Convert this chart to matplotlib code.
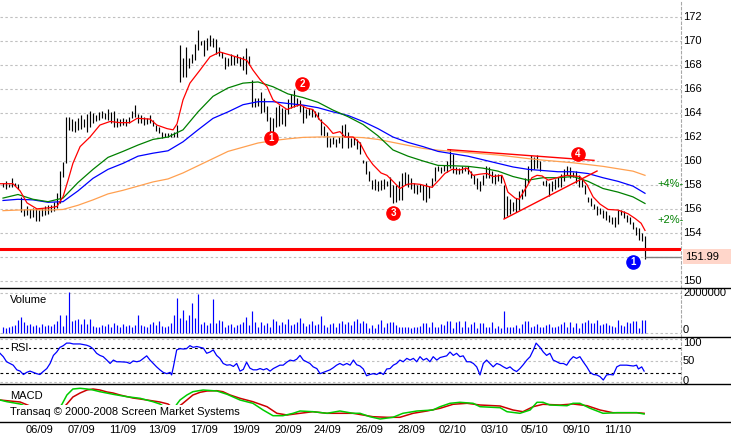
import numpy as np
import matplotlib
matplotlib.use("Agg")
import matplotlib.pyplot as plt
from matplotlib.lines import Line2D
from matplotlib.patches import Rectangle

plt.rcParams['font.family'] = ['Liberation Sans', 'DejaVu Sans']

# ---------------- data ----------------
high = [158.2, 158.3, 158.1, 158.6, 158.2, 158.1, 157.0, 156.0, 156.2, 156.0,
        156.1, 156.0, 155.9, 156.1, 156.2, 156.3, 156.3, 156.6, 157.3, 159.2,
        159.9, 163.7, 163.7, 163.5, 163.3, 163.6, 163.8, 163.5, 163.9, 164.2,
        164.0, 163.8, 164.1, 164.2, 164.0, 164.3, 164.1, 164.2, 163.6, 163.5,
        163.6, 163.5, 163.7, 164.2, 164.7, 163.9, 163.8, 163.7, 163.6, 163.8,
        163.4, 163.0, 162.8, 162.4, 162.3, 162.3, 162.3, 162.4, 163.0, 169.7,
        168.6, 169.5, 168.6, 168.9, 169.8, 170.9, 170.0, 170.1, 170.3, 170.5,
        170.3, 170.2, 169.5, 169.1, 168.7, 168.6, 168.9, 168.8, 168.9, 168.7,
        168.8, 169.4, 168.8, 166.8, 165.3, 165.3, 165.8, 165.3, 164.6, 163.7,
        163.6, 164.5, 164.7, 164.4, 164.3, 165.2, 165.6, 165.9, 165.3, 165.1,
        164.7, 164.3, 164.4, 164.3, 164.2, 164.1, 163.5, 162.9, 162.4, 161.9,
        162.0, 161.8, 162.0, 163.0, 163.1, 162.4, 161.9, 162.0, 161.8, 161.6,
        160.1, 160.0, 159.2, 158.4, 158.5, 158.3, 158.4, 158.5, 158.3, 158.7,
        158.0, 158.0, 158.3, 159.0, 159.1, 158.9, 158.6, 158.2, 158.0, 158.1,
        158.0, 158.2, 157.9, 158.6, 159.5, 159.6, 159.5, 159.7, 160.0, 161.0,
        160.6, 159.5, 159.4, 159.6, 159.5, 159.6, 159.2, 158.8, 158.6, 158.3,
        158.8, 159.6, 159.5, 159.2, 158.9, 158.9, 158.8, 158.0, 157.1, 156.8,
        156.6, 156.9, 157.5, 157.7, 158.6, 159.6, 160.5, 160.3, 160.5, 160.0,
        158.3, 158.4, 158.2, 158.3, 158.5, 158.7, 158.9, 159.3, 159.6, 159.5,
        159.1, 159.2, 158.8, 158.5, 158.0, 157.0, 156.9, 156.4, 156.2, 156.1,
        155.9, 155.8, 155.5, 155.3, 155.3, 155.9, 155.9, 155.8, 155.5, 155.3,
        154.9, 154.5, 154.4, 154.0, 153.7]
low = [157.8, 157.7, 157.8, 157.8, 157.9, 157.7, 155.7, 155.4, 155.5, 155.2,
       155.3, 155.0, 155.0, 155.4, 155.5, 155.6, 155.7, 155.8, 156.1, 156.5,
       158.7, 159.8, 162.6, 162.5, 162.4, 162.6, 162.7, 162.8, 162.4, 162.8,
       163.2, 163.3, 163.4, 163.6, 163.5, 163.4, 163.2, 162.8, 162.8, 162.9,
       163.0, 162.9, 163.2, 163.6, 163.7, 163.2, 163.2, 163.0, 163.1, 163.2,
       162.9, 162.5, 162.3, 161.9, 162.0, 162.0, 162.0, 162.0, 162.0, 166.6,
       167.0, 167.0, 167.8, 168.2, 168.4, 169.3, 169.7, 168.8, 169.3, 169.6,
       169.5, 168.9, 168.8, 168.6, 167.7, 167.9, 168.0, 168.0, 168.2, 167.9,
       167.6, 167.3, 168.0, 164.5, 164.5, 164.6, 164.0, 164.1, 163.3, 162.3,
       162.0, 162.8, 162.9, 163.1, 162.9, 163.9, 164.4, 164.5, 164.6, 164.1,
       163.2, 163.6, 163.8, 163.7, 163.7, 163.5, 162.2, 162.1, 161.2, 161.2,
       161.4, 161.2, 161.5, 161.1, 162.1, 161.1, 161.2, 161.3, 161.0, 160.6,
       159.8, 158.9, 158.3, 157.7, 157.6, 157.5, 157.6, 157.7, 157.9, 157.0,
       156.5, 156.6, 156.7, 156.7, 158.0, 157.8, 157.7, 157.3, 157.2, 157.4,
       156.7, 156.6, 156.9, 157.8, 158.3, 159.2, 159.0, 159.2, 159.1, 159.4,
       159.0, 158.9, 158.9, 159.0, 159.2, 158.9, 158.6, 158.1, 157.7, 157.5,
       158.0, 158.6, 158.6, 158.2, 158.1, 158.3, 158.2, 155.2, 155.4, 155.6,
       155.8, 155.7, 155.9, 156.8, 157.1, 158.2, 159.2, 159.3, 159.4, 159.2,
       158.0, 157.9, 157.1, 157.5, 157.7, 157.8, 157.8, 158.3, 158.8, 158.6,
       158.7, 158.2, 157.8, 157.8, 157.2, 156.6, 156.2, 156.0, 155.5, 155.6,
       155.2, 155.1, 154.9, 154.7, 154.5, 154.7, 155.5, 155.2, 154.9, 154.7,
       154.3, 153.8, 153.4, 153.3, 151.8]
volume_m = [0.30, 0.25, 0.28, 0.32, 0.38, 0.65, 0.78, 0.55, 0.40, 0.45,
            0.35, 0.40, 0.30, 0.45, 0.32, 0.38, 0.35, 0.45, 0.58, 0.92,
            0.35, 0.88, 2.05, 0.60, 0.62, 0.70, 0.45, 0.72, 0.42, 0.68,
            0.35, 0.30, 0.28, 0.40, 0.35, 0.45, 0.30, 0.50, 0.38, 0.30,
            0.45, 0.35, 0.40, 0.30, 0.38, 0.92, 0.40, 0.35, 0.30, 0.45,
            0.52, 0.40, 0.60, 0.35, 0.30, 0.35, 0.50, 0.90, 1.74, 0.75,
            1.15, 0.65, 0.90, 1.49, 0.75, 1.94, 0.45, 0.55, 0.40, 0.50,
            1.71, 0.47, 0.64, 0.59, 0.30, 0.40, 0.45, 0.30, 0.40, 0.45,
            0.55, 0.80, 0.40, 1.10, 0.55, 0.30, 0.55, 0.40, 0.50, 0.30,
            0.72, 0.60, 0.40, 0.55, 0.45, 0.70, 0.38, 0.45, 0.55, 0.73,
            0.50, 0.35, 0.45, 0.60, 0.40, 0.45, 0.86, 0.40, 0.30, 0.45,
            0.50, 0.30, 0.50, 0.60, 0.45, 0.55, 0.40, 0.58, 0.70, 0.50,
            0.60, 0.50, 0.25, 0.40, 0.25, 0.42, 0.64, 0.30, 0.48, 0.55,
            0.52, 0.40, 0.30, 0.28, 0.30, 0.30, 0.25, 0.30, 0.30, 0.35,
            0.47, 0.50, 0.30, 0.52, 0.30, 0.28, 0.42, 0.40, 0.59, 0.59,
            0.25, 0.56, 0.59, 0.28, 0.59, 0.30, 0.42, 0.54, 0.25, 0.47,
            0.47, 0.30, 0.30, 0.52, 0.25, 0.35, 0.25, 1.10, 0.30, 0.28,
            0.30, 0.40, 0.25, 0.45, 0.59, 0.58, 0.30, 0.35, 0.42, 0.28,
            0.30, 0.40, 0.42, 0.28, 0.30, 0.35, 0.42, 0.52, 0.30, 0.54,
            0.30, 0.50, 0.25, 0.50, 0.52, 0.62, 0.47, 0.50, 0.64, 0.40,
            0.42, 0.50, 0.38, 0.35, 0.30, 0.62, 0.38, 0.35, 0.56, 0.47,
            0.59, 0.60, 0.25, 0.64, 0.64]

# moving averages sampled every 5 bars (last at bar 214)
ma_idx = list(range(0, 211, 5)) + [214]
green_ma = [156.9, 157.2, 156.8, 156.6, 156.9, 158.2, 159.3, 160.3, 160.8, 161.33,
            161.8, 162.0, 162.6, 164.1, 165.4, 166.1, 166.5, 166.6, 166.2, 165.6,
            165.3, 164.9, 164.25, 163.7, 163.05, 162.1, 160.92, 160.4, 160.0, 159.63,
            159.6, 159.55, 159.4, 159.15, 158.7, 158.4, 158.6, 158.6, 158.7, 158.3,
            157.7, 157.4, 157.0, 156.45]
blue_ma = [156.7, 156.8, 156.75, 156.55, 156.6, 157.5, 158.55, 159.3, 159.8, 160.4,
           160.65, 160.85, 161.6, 162.6, 163.56, 164.1, 164.7, 164.95, 164.95, 164.8,
           164.67, 164.45, 164.1, 163.8, 163.3, 162.7, 162.0, 161.55, 161.2, 160.8,
           160.6, 160.4, 160.1, 159.8, 159.5, 159.3, 159.2, 159.1, 159.1, 158.95,
           158.6, 158.3, 157.9, 157.3]
orange_ma = [155.85, 155.9, 155.93, 155.9, 155.95, 156.3, 156.75, 157.25, 157.55, 157.9,
             158.25, 158.5, 159.0, 159.6, 160.2, 160.8, 161.15, 161.5, 161.7, 161.85,
             161.97, 162.0, 162.02, 162.0, 161.95, 161.8, 161.55, 161.3, 161.05, 160.9,
             160.8, 160.7, 160.6, 160.5, 160.35, 160.2, 160.07, 159.96, 159.85, 159.7,
             159.55, 159.35, 159.15, 158.8]
red_ma_idx = [-1.0, 3.3, 5.7, 8.0, 11.3, 15.7, 18.0, 20.0, 21.7, 23.3, 25.7, 29.0,
              32.3, 35.7, 39.0, 42.3, 44.7, 49.0, 51.3, 54.7, 56.7, 58.0, 60.0, 62.3,
              65.7, 69.0, 72.3, 75.7, 79.0, 81.3, 83.3, 85.7, 88.0, 90.0, 92.3, 94.7,
              96.7, 99.0, 101.3, 103.3, 105.7, 108.0, 110.0, 112.3, 114.0, 116.7,
              119.0, 121.3, 123.3, 126.0, 128.0, 130.0, 132.3, 134.7, 136.7, 139.0,
              142.0, 143.0, 145.3, 147.3, 149.7, 152.3, 154.7, 156.7, 159.0, 161.3,
              163.3, 166.3, 167.0, 168.3, 170.7, 172.0, 173.0, 174.7, 176.3, 178.0,
              179.7, 181.7, 183.3, 186.0, 188.0, 192.3, 194.7, 196.7, 199.0, 201.7,
              205.0, 208.3, 210.7, 212.7, 214.0]
red_ma = [158.1, 158.1, 157.5, 156.5, 156.0, 156.1, 156.2, 157.0, 158.4, 159.8, 161.2, 162.0,
          163.0, 163.3, 163.2, 163.2, 163.56, 163.5, 163.0, 162.7, 162.6, 163.1, 165.1, 166.5,
          167.6, 168.7, 169.1, 168.85, 168.6, 168.4, 167.6, 166.8, 166.2, 165.1, 164.7, 164.3,
          164.5, 164.7, 164.4, 164.3, 163.4, 162.9, 162.3, 162.45, 162.0, 162.0,
          161.5, 160.4, 159.7, 159.0, 158.8, 158.3, 157.7, 158.05, 158.1, 158.05,
          157.85, 157.8, 158.4, 158.96, 159.3, 159.25, 159.4, 158.8, 158.9, 158.96,
          158.7, 158.8, 158.4, 157.4, 156.9, 156.8, 157.2, 157.9, 158.6, 158.8,
          158.75, 158.4, 158.5, 158.7, 158.8, 158.7, 158.0, 157.0, 156.4, 155.95,
          155.9, 155.6, 155.2, 154.8, 154.2]

rsi_idx = [-1, 0.1, 1.2, 2.3, 3.4, 4.6, 5.7, 6.8, 7.9, 9, 10.1, 11.2, 12.3, 13.4, 14.6,
           15.7, 16.8, 17.9, 19, 20.1, 21.2, 22.3, 23.4, 25.7, 27.9, 29, 30.1, 31.2, 32.3,
           33.4, 34.6, 35.7, 36.8, 37.9, 39, 41.2, 42.3, 43.4, 44.6, 45.7, 46.8, 47.9, 49,
           50.1, 51.2, 52.3, 53.4, 54.6, 55.7, 56.2, 56.8, 57.9, 59, 60.1, 61.2, 62.3, 63.4,
           64.6, 65.7, 66.8, 67.9, 69, 70.1, 71.2, 72.3, 73.4, 74.6, 75.7, 76.8, 77.9, 79,
           80.1, 81.2, 82.3, 83.4, 84.6, 85.7, 86.8, 87.9, 89, 90.1, 91.2, 92.3, 93.4, 94.6,
           95.7, 96.8, 97.9, 99, 100.1, 101.2, 102.3, 103.4, 104.6, 105.7, 106.8, 107.9,
           109, 110.1, 111.2, 112.3, 113.4, 114.6, 115.7, 116.8, 117.9, 119, 120.1, 121.2,
           122.3, 123.4, 124.6, 125.7, 126.8, 127.9, 129, 130.1, 131.2, 132.3, 133.4, 134.6,
           135.7, 136.8, 137.9, 139, 140.1, 141.2, 142.3, 143.4, 144.6, 145.7, 146.8, 147.9,
           149, 150.1, 151.2, 152.3, 153.4, 154.6, 155.7, 156.8, 157.9, 159, 160.1, 161.2,
           162.3, 163.4, 164.6, 165.7, 166.8, 167.9, 169, 170.1, 171.2, 172.3, 173.4, 174.6,
           175.7, 176.8, 177.7, 179, 180.1, 181.2, 182.3, 183.4, 184.6, 185.7, 186.8, 187.9,
           189, 190.1, 191.2, 192.3, 193.4, 194.6, 195.7, 196.8, 197.9, 199, 200.1, 201.2,
           202.3, 203.4, 204.6, 205.7, 207.9, 210.1, 211.2, 211.8, 212.9, 213.7]
rsi = [67, 59, 47, 43, 39, 28, 25, 17, 22, 25, 22, 19, 17, 24, 31,
       43, 62, 70, 81, 85, 91, 91, 89, 89, 86, 83, 77, 67, 62,
       59, 51, 43, 51, 47, 47, 46, 43, 49, 47, 49, 55, 61, 51,
       43, 35, 28, 22, 19, 22, 16, 35, 75, 78, 77, 78, 85, 81,
       83, 81, 79, 67, 70, 75, 62, 55, 43, 39, 40, 36, 43, 25,
       29, 46, 32, 28, 28, 31, 28, 31, 25, 31, 35, 39, 39, 46,
       51, 49, 53, 62, 51, 47, 43, 35, 31, 19, 22, 25,
       28, 33, 39, 43, 39, 43, 39, 51, 40, 37, 30, 14,
       17, 19, 17, 22, 17, 30, 31, 39, 43, 51, 47, 55,
       51, 55, 47, 59, 51, 55, 47, 59, 51, 57, 59, 61,
       70, 62, 67, 59, 61, 47, 47, 43, 35, 16, 43, 51,
       43, 35, 43, 40, 35, 31, 35, 28, 24, 31, 40, 51,
       59, 75, 91, 81, 70, 62, 67, 51, 47, 43, 43, 39,
       51, 59, 55, 59, 47, 35, 22, 17, 16, 12, 4, 16,
       17, 16, 35, 39, 39, 37, 39, 30, 35, 25]

macd_red_idx = [-1, 2.3, 5.7, 9, 12.3, 15.7, 18, 20, 21.3, 23.3, 25.7, 28, 30, 32.3, 34.7,
                36.7, 39, 43.3, 48, 52.3, 55, 56.3, 58.3, 59.7, 61.3, 63.3, 65.7, 68, 71.3,
                73.3, 75.7, 79, 83.3, 88, 91.3, 94.7, 99, 103.3, 108, 112.3, 116.7, 120,
                123.3, 128, 132.3, 136.7, 141.3, 145.7, 150, 154.7, 159, 165.7, 170, 173.3,
                176.7, 180, 185.7, 190, 194.7, 199, 203.3, 208, 211.3, 213.7]
macd_red = [0.5, 0.4, 0.3, -0.1, -0.5, -0.7, -0.6, -0.3, 0.1, 0.8, 1.2, 1.5, 1.6, 1.5, 1.3,
            1.2, 1.0, 0.7, 0.5, 0.3, 0.1, -0.2, -0.2, 0.1, 0.5, 1.0, 1.27, 1.4, 1.43,
            1.33, 1.0, 0.67, 0.33, -0.17, -0.83, -1.0, -0.83, -0.67, -0.83, -0.83, -0.83, -1.0,
            -1.17, -1.23, -1.23, -0.83, -0.6, -0.33, 0.07, 0.17, 0.0, -0.1, -0.5, -0.67,
            -0.17, 0.07, 0.0, 0.1, -0.07, -0.5, -0.77, -0.77, -0.77, -0.83]
macd_green_idx = [-1, 1.3, 5.7, 10.7, 15.7, 18.3, 19.7, 21.3, 23.3, 25.7, 28, 30, 32.3, 36.7,
                  41.3, 45.7, 50, 52.3, 55, 57.3, 58, 59, 61.3, 63.3, 66.7, 71.3, 74.7, 79,
                  83.3, 86.7, 90, 93.3, 96.7, 99, 103.3, 108, 112.3, 116.7, 119, 122.3, 125.7,
                  130, 133.3, 138, 143.3, 145.7, 149, 152.3, 156.7, 159, 165.7, 168, 172.3,
                  175.7, 178, 180, 182.3, 188, 190, 192.3, 195.7, 200, 204.7, 208, 211.3, 213.7]
macd_green = [0.5, 0.33, 0.1, -0.5, -0.8, -0.5, 0.1, 1.0, 1.6, 1.67, 1.6, 1.5, 1.33, 1.07,
              0.83, 0.67, 0.33, 0.1, -0.4, -0.2, 0.1, 0.5, 1.0, 1.33, 1.5, 1.4, 1.07, 0.5,
              0.17, -0.5, -1.07, -1.07, -0.83, -0.6, -0.67, -0.83, -0.6, -0.83, -0.83, -1.17, -1.4,
              -1.23, -0.83, -0.6, -0.5, -0.17, 0.17, 0.27, 0.17, -0.17, -0.27, -0.67, -0.83,
              -0.5, 0.27, 0.27, 0.0, -0.07, 0.17, 0.17, -0.33, -0.83, -0.77, -0.77, -0.77, -0.9]

dates = ['06/09', '07/09', '11/09', '13/09', '17/09', '19/09', '20/09', '24/09',
         '26/09', '28/09', '02/10', '03/10', '05/10', '09/10', '11/10']
date_idx = [12, 26, 40, 53, 67, 81, 95, 108, 122, 136, 150, 164, 177, 191, 205]

price_grid = [150, 152, 154, 156, 158, 160, 162, 164, 166, 168, 170, 172]
price_labels = [150, 154, 156, 158, 160, 162, 164, 166, 168, 170, 172]
level_line = 152.62
last_price = 151.99

trend_top_idx = [148.3, 197.0]
trend_top = [160.95, 160.05]
trend_low_idx = [167.0, 198.0]
trend_low = [155.15, 159.16]

badges_red_idx = [89.3, 99.7, 130.0, 191.6]
badges_red_val = [161.92, 166.43, 155.65, 160.58]
badges_red_txt = ['1', '2', '3', '4']
badge_blue_idx = 209.9
badge_blue_val = 151.59

# ---------------- figure ----------------
W, H = 731, 436
fig = plt.figure(figsize=(W / 100, H / 100), dpi=100)
fig.patch.set_facecolor('white')


def fy(py):
    return 1 - py / H


XR = 681 / W
tops = [0, 288.3, 336.7, 384.3, 422.0]
axes = []
for k in range(4):
    a = fig.add_axes([0, fy(tops[k + 1]), XR, (tops[k + 1] - tops[k]) / H])
    a.set_xlim(-1, 226)
    a.set_facecolor('white')
    for s in ['top', 'left', 'bottom']:
        a.spines[s].set_visible(False)
    a.spines['right'].set_linestyle((0, (2.2, 2.2)))
    a.spines['right'].set_color('#a8a8a8')
    a.spines['right'].set_linewidth(0.8)
    a.set_xticks([])
    a.set_yticks([])
    axes.append(a)
ax_p, ax_v, ax_r, ax_m = axes
ax_m.spines['right'].set_visible(False)

grid_kw = dict(color='#c0c0c0', lw=0.8, ls=(0, (2.2, 2.2)), zorder=0)
LX = 683 / W


def right_label(py, txt, **kw):
    fig.text(LX, fy(py), txt, ha='left', va='center', fontsize=8, **kw)


# ---- price panel ----
ax_p.set_ylim(149.365, 173.445)
for g in price_grid:
    ax_p.axhline(g, **grid_kw)
for v in price_labels:
    py = ax_p.transData.transform((0, v))[1]
    right_label(H - py, str(v))
bars_x = np.arange(len(high))
ax_p.vlines(bars_x, low, high, color='black', lw=0.85, zorder=2)
ax_p.plot(ma_idx, orange_ma, color='#ffa050', lw=0.9, zorder=3)
ax_p.plot(ma_idx, blue_ma, color='#0000ff', lw=0.9, zorder=3)
ax_p.plot(ma_idx, green_ma, color='#008000', lw=0.9, zorder=3)
ax_p.plot(red_ma_idx, red_ma, color='#ff0000', lw=0.9, zorder=3)
ax_p.plot(trend_top_idx, trend_top, color='#ff0000', lw=1.0, zorder=3)
ax_p.plot(trend_low_idx, trend_low, color='#ff0000', lw=1.0, zorder=3)
ax_p.axhline(level_line, color='#ff0000', lw=2.2, zorder=4)
ax_p.hlines(last_price, len(high) - 1, 226, color='#808080', lw=1.0, zorder=3)
for bx, by, bt in zip(badges_red_idx, badges_red_val, badges_red_txt):
    ax_p.plot(bx, by, 'o', ms=9.5, color='#ff0000', mec='#ff0000', zorder=5)
    ax_p.text(bx, by, bt, color='white', ha='center', va='center', fontsize=7,
              fontweight='bold', zorder=6)
ax_p.plot(badge_blue_idx, badge_blue_val, 'o', ms=9.5, color='#0000ff', mec='#0000ff', zorder=5)
ax_p.text(badge_blue_idx, badge_blue_val, '1', color='white', ha='center', va='center',
          fontsize=7, fontweight='bold', zorder=6)

fig.text(684 / W, fy(184.3), '+4%-', ha='right', va='center', color='#008000', fontsize=8)
fig.text(684 / W, fy(220.3), '+2%-', ha='right', va='center', color='#008000', fontsize=8)
fig.add_artist(Rectangle((683 / W, fy(263.5)), 48 / W, 14.5 / H, transform=fig.transFigure,
                         facecolor='#ffd6ca', edgecolor='none', zorder=5))
fig.text(685 / W, fy(256.5), f'{last_price:.2f}', ha='left', va='center', fontsize=8, zorder=6)

# ---- volume panel ----
ax_v.set_ylim(-0.203e6, 2.254e6)
for g in [0, 2000000]:
    ax_v.axhline(g, **grid_kw)
ax_v.vlines(bars_x, 0, np.array(volume_m) * 1e6, color='#0000ff', lw=0.85, zorder=2)
right_label(293.5, '2000000')
right_label(329.8, '0')
fig.text(10 / W, fy(300), 'Volume', ha='left', va='center', fontsize=8)

# ---- RSI panel ----
ax_r.set_ylim(-6.1, 106.1)
for g in [0, 50, 100]:
    ax_r.axhline(g, **grid_kw)
for g in [20, 80]:
    ax_r.axhline(g, color='black', lw=0.8, ls=(0, (2.5, 2.5)), zorder=1)
ax_r.plot(rsi_idx, rsi, color='#0000ff', lw=0.9, zorder=3)
right_label(342.8, '100')
right_label(361.2, '50')
right_label(381.0, '0')
fig.text(10 / W, fy(347.8), 'RSI', ha='left', va='center', fontsize=8,
         bbox=dict(facecolor='white', edgecolor='none', pad=0.3), zorder=5)

# ---- MACD panel ----
ax_m.set_ylim(-1.7, 2.07)
ax_m.plot(macd_red_idx, macd_red, color='#cc0000', lw=1.1, zorder=2)
ax_m.plot(macd_green_idx, macd_green, color='#00cc00', lw=1.1, zorder=2)
ax_m.set_xticks(date_idx)
ax_m.set_xticklabels(dates)
ax_m.tick_params(axis='x', length=0, pad=2.2, labelsize=8)
fig.text(10 / W, fy(396), 'MACD', ha='left', va='center', fontsize=8, zorder=5)
fig.text(10 / W, fy(412), 'Transaq \u00a9 2000-2008 Screen Market Systems', ha='left',
         va='center', fontsize=8, zorder=5,
         bbox=dict(facecolor='white', edgecolor='none', pad=1.2))

# ---- separators ----
for py in [288.3, 336.7, 384.3, 422.0]:
    fig.add_artist(Line2D([0, 1], [fy(py), fy(py)], color='black', lw=1.0,
                          transform=fig.transFigure, zorder=10))

fig.savefig('out.png', dpi=100, facecolor='white')
